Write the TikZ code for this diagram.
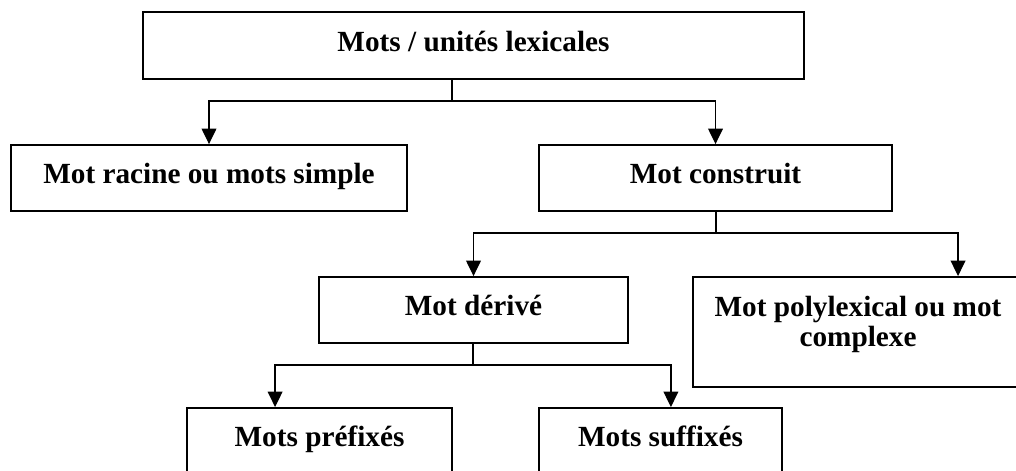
\documentclass[tikz,border=0pt]{standalone}
\usepackage{fontspec}
\setmainfont{Liberation Serif}
\usetikzlibrary{arrows.meta}
\begin{document}
\begin{tikzpicture}[x=0.025cm, y=-0.025cm,
    box/.style={draw, line width=1.3pt, rectangle, inner sep=0pt, minimum height=1.65cm,
        font=\fontsize{20.8}{21.3}\selectfont\bfseries},
    oneline/.style={box, text height=15pt, text depth=7pt},
    arr/.style={line width=0.9pt, -{Triangle[width=10.5pt, length=11pt]}}]
        \useasboundingbox (0, 0) rectangle (1016, 470);
        \clip (0, 0) rectangle (1016, 470);

        \node[oneline, minimum width=16.53cm, minimum height=1.68cm] (top) at (473.5, 45.5) {Mots / unités lexicales};
        \node[oneline, minimum width=9.9cm] (racine) at (209, 178) {Mot racine ou mots simple};
        \node[oneline, minimum width=8.83cm] (construit) at (715.5, 178) {Mot construit};
        \node[oneline, minimum width=7.73cm] (derive) at (473.5, 310) {Mot dérivé};
        \node[box, minimum width=8.25cm, minimum height=2.75cm, align=center, text depth=14.5pt] (poly) at (858, 332) {Mot polylexical ou mot\\complexe};
        \node[oneline, minimum width=6.63cm] (prefixe) at (319.5, 441) {Mots préfixés};
        \node[oneline, minimum width=6.08cm] (suffixe) at (660.5, 441) {Mots suffixés};

        \coordinate (j1) at (452, 101);
        \coordinate (j2) at (716, 233);
        \coordinate (j3) at (473, 365);

        \draw[line width=0.9pt] (top.south -| j1) -- (j1);
        \draw[arr] (j1) -| (racine.north);
        \draw[arr] (j1) -| (construit.north);
        \draw[line width=0.9pt] (construit.south -| j2) -- (j2);
        \draw[arr] (j2) -| (derive.north);
        \draw[arr] (j2) -| ([xshift=2.5cm]poly.north);
        \draw[line width=0.9pt] (derive.south -| j3) -- (j3);
        \draw[arr] (j3) -| ([xshift=-1.11cm]prefixe.north);
        \draw[arr] (j3) -| ([xshift=0.26cm]suffixe.north);
    \end{tikzpicture}
\end{document}
